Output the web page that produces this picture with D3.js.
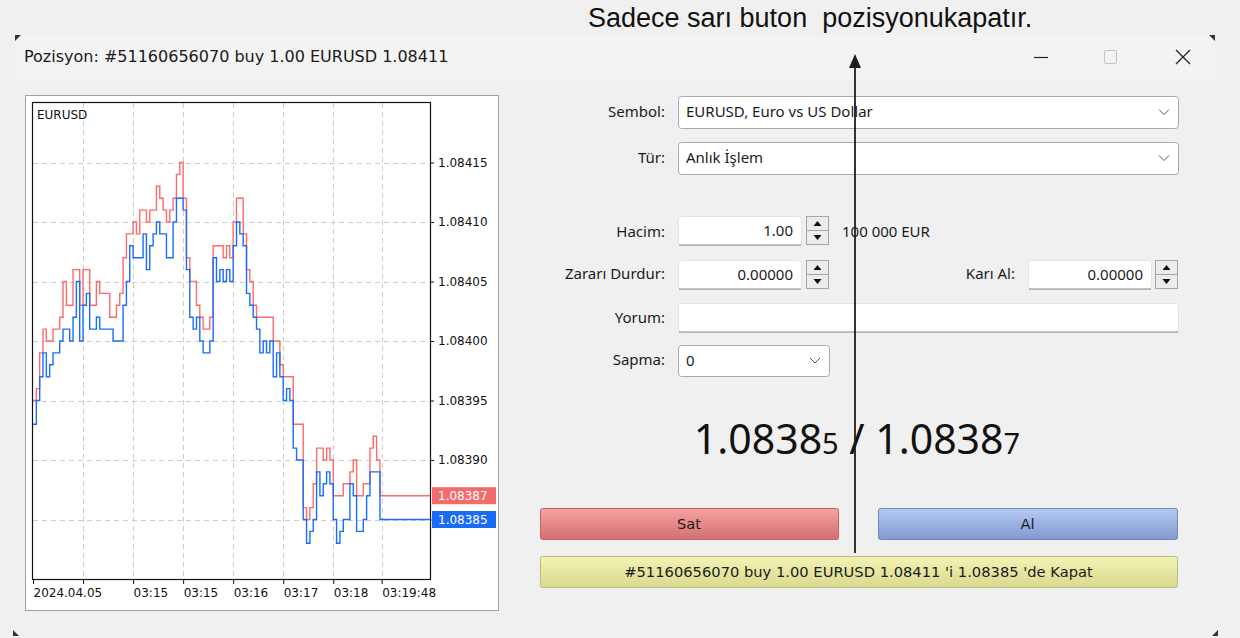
<!DOCTYPE html>
<html>
<head>
<meta charset="utf-8">
<script src="https://cdn.jsdelivr.net/npm/d3@7"></script>
<style>
  body { margin: 0; background: #f0f0f0; }
  svg { display: block; }
</style>
</head>
<body>
<div id="svg"></div>
<script>
// tick quotes in points (108385 = 1.08385), one value per tick step
const bid = [
  108393, 108395, 108397, 108399, 108397, 108398, 108399, 108399, 108400, 108401,
  108401, 108400, 108402, 108405, 108400, 108403, 108404, 108401, 108401, 108402,
  108401, 108401, 108401, 108401, 108400, 108400, 108400, 108403, 108405, 108408,
  108407, 108407, 108407, 108409, 108406, 108408, 108409, 108410, 108409, 108409,
  108407,
  108407, 108410, 108412, 108412, 108411, 108406, 108402, 108401, 108402, 108400,
  108399, 108399, 108400, 108407, 108405, 108406, 108405, 108406, 108405, 108408,
  108410, 108409, 108408, 108404, 108403, 108402, 108401, 108399, 108400, 108399,
  108400, 108397, 108399, 108397, 108395, 108396, 108395,
  108391, 108390, 108390, 108385, 108383, 108384, 108385, 108389, 108387, 108388,
  108389, 108388, 108385, 108383, 108384, 108385, 108385, 108388, 108387, 108384,
  108384, 108385, 108387, 108389, 108389, 108389, 108385
];
const ask = [
  108395, 108396, 108399, 108401, 108400, 108400, 108401, 108401, 108402, 108405,
  108403, 108403, 108406, 108406, 108403, 108406, 108406, 108403, 108403, 108405,
  108404, 108404, 108404, 108402, 108402, 108403, 108404, 108407, 108409, 108409,
  108410, 108409, 108411, 108411, 108410, 108411, 108411, 108413, 108412, 108411,
  108410,
  108411, 108412, 108414, 108415, 108412, 108407, 108405, 108405, 108403, 108402,
  108401, 108401, 108402, 108408, 108408, 108408, 108407, 108408, 108407, 108410,
  108412, 108412, 108409, 108406, 108405, 108403, 108402, 108402, 108402, 108402,
  108402, 108400, 108400, 108398, 108397, 108397, 108397,
  108393, 108393, 108393, 108386, 108385, 108386, 108388, 108391, 108391, 108390,
  108391, 108390, 108387, 108387, 108387, 108388, 108388, 108389, 108390, 108387,
  108387, 108388, 108388, 108391, 108392, 108390, 108387
];
const priceTicks = [108385, 108390, 108395, 108400, 108405, 108410, 108415];
const timeTicks = [0, 15, 30, 45, 60, 75, 90, 104.5];
const timeLabels = ["2024.04.05", "", "03:15", "03:15", "03:16", "03:17", "03:18", "03:19:48"];
const lastBid = 108385;
const lastAsk = 108387;

const w = 1240;
const h = 638;
const font = "'Noto Sans', sans-serif";
const chartFont = "'DejaVu Sans', sans-serif";

let svg = d3.select("#svg")
  .append("svg")
  .attr("width", w)
  .attr("height", h);

const defs = svg.append("defs");
const grad = (id, top, bottom) => {
  const g = defs.append("linearGradient").attr("id", id)
    .attr("x1", 0).attr("y1", 0).attr("x2", 0).attr("y2", 1);
  g.append("stop").attr("offset", "0%").attr("stop-color", top);
  g.append("stop").attr("offset", "100%").attr("stop-color", bottom);
};
grad("gSat", "#f6a3a3", "#d26f6f");
grad("gAl", "#b4cbf3", "#8198cf");
grad("gKapat", "#f3f3b4", "#d9d98f");

// window frame
svg.append("rect").attr("x", 15).attr("y", 35).attr("width", 1200).attr("height", 45).attr("fill", "#f3f3f3");
[[15, 35, 1, 1], [1215, 35, -1, 1], [13, 636, 1, -1], [1218, 636, -1, -1]].forEach(([cx, cy, sx, sy]) => {
  svg.append("path")
    .attr("d", `M${cx},${cy} l${6 * sx},0 l${-6 * sx},${6 * sy} Z`)
    .attr("fill", "#333");
});

svg.append("text")
  .attr("x", 24).attr("y", 62)
  .attr("font-family", chartFont).attr("font-size", 16).attr("fill", "#1a1a1a")
  .text("Pozisyon: #51160656070 buy 1.00 EURUSD 1.08411");

// window buttons
svg.append("line").attr("x1", 1034).attr("x2", 1048).attr("y1", 57.5).attr("y2", 57.5)
  .attr("stroke", "#222").attr("stroke-width", 1.2);
svg.append("rect").attr("x", 1104.5).attr("y", 50.5).attr("width", 12).attr("height", 13).attr("rx", 1.5)
  .attr("fill", "none").attr("stroke", "#c4c4c4");
svg.append("path").attr("d", "M1176,50 L1190,64 M1190,50 L1176,64")
  .attr("stroke", "#222").attr("stroke-width", 1.3);

// ---- chart ----
const plot = { left: 33, right: 430, top: 103, bottom: 579 };

svg.append("rect")
  .attr("x", 25.5).attr("y", 95.5).attr("width", 473).attr("height", 515)
  .attr("fill", "#fff").attr("stroke", "#a0a0a0");

const x = d3.scaleLinear().domain([0, 119]).range([plot.left, plot.right]);
const y = d3.scaleLinear().domain([108380, 108420]).range([plot.bottom, plot.top]);

let grid = svg.append("g").attr("stroke", "#cdcdcd").attr("stroke-dasharray", "5,4");
grid.selectAll(".hg")
  .data(priceTicks)
  .enter()
  .append("line")
  .attr("x1", plot.left).attr("x2", plot.right)
  .attr("y1", d => Math.round(y(d)) + 0.5).attr("y2", d => Math.round(y(d)) + 0.5);
grid.selectAll(".vg")
  .data(timeTicks.slice(1))
  .enter()
  .append("line")
  .attr("x1", d => Math.round(x(d)) + 0.5).attr("x2", d => Math.round(x(d)) + 0.5)
  .attr("y1", plot.top).attr("y2", plot.bottom);

defs.append("clipPath").attr("id", "clip")
  .append("rect")
  .attr("x", plot.left).attr("y", plot.top)
  .attr("width", plot.right - plot.left).attr("height", plot.bottom - plot.top);

const line = d3.line()
  .x(d => x(d[0]))
  .y(d => y(d[1]))
  .curve(d3.curveStepAfter);

const series = (vals) => {
  const pts = vals.map((v, i) => [i, v]);
  pts.push([x.domain()[1], vals[vals.length - 1]]);
  return pts;
};

svg.append("path")
  .attr("d", line(series(ask)))
  .attr("clip-path", "url(#clip)")
  .attr("fill", "none").attr("stroke", "#ff6b6b").attr("stroke-width", 1.4);
svg.append("path")
  .attr("d", line(series(bid)))
  .attr("clip-path", "url(#clip)")
  .attr("fill", "none").attr("stroke", "#1a6cff").attr("stroke-width", 1.4);

// frame
svg.append("rect")
  .attr("x", plot.left - 0.5).attr("y", plot.top - 0.5)
  .attr("width", plot.right - plot.left + 1).attr("height", plot.bottom - plot.top + 1)
  .attr("fill", "none").attr("stroke", "#111").attr("stroke-width", 1.2);

svg.append("text")
  .attr("x", 37).attr("y", 119)
  .attr("font-family", chartFont).attr("font-size", 12).attr("fill", "#111")
  .text("EURUSD");

const yAxis = d3.axisRight(y)
  .tickValues(priceTicks)
  .tickFormat(d => (d / 1e5).toFixed(5))
  .tickSize(4)
  .tickPadding(4);

svg.append("g")
  .attr("transform", `translate(${plot.right}, 0)`)
  .call(yAxis)
  .call(g => g.select(".domain").remove())
  .call(g => g.selectAll("line").attr("stroke", "#111"))
  .call(g => g.selectAll("text").attr("font-family", chartFont).attr("font-size", 12).attr("fill", "#111"));

const xAxis = d3.axisBottom(x)
  .tickValues(timeTicks)
  .tickFormat((d, i) => timeLabels[i])
  .tickSize(5)
  .tickPadding(4);

svg.append("g")
  .attr("transform", `translate(0, ${plot.bottom})`)
  .call(xAxis)
  .call(g => g.select(".domain").remove())
  .call(g => g.selectAll("line").attr("stroke", "#111"))
  .call(g => g.selectAll("text")
    .attr("text-anchor", "start").attr("dx", 0)
    .attr("font-family", chartFont).attr("font-size", 12).attr("fill", "#111"));

// current price tags
[[lastAsk, "#f36b6b"], [lastBid, "#1a6cf5"]].forEach(([v, c]) => {
  svg.append("rect")
    .attr("x", 432).attr("y", y(v) - 8.5).attr("width", 64).attr("height", 17)
    .attr("fill", c);
  svg.append("text")
    .attr("x", 438).attr("y", y(v) + 4.5)
    .attr("font-family", chartFont).attr("font-size", 12).attr("fill", "#fff")
    .text((v / 1e5).toFixed(5));
});

// ---- order form ----
const label = (txt, lx, ly) => svg.append("text")
  .attr("x", lx).attr("y", ly + 5)
  .attr("text-anchor", "end")
  .attr("font-family", font).attr("font-size", 15).attr("fill", "#1b1b1b")
  .text(txt);

const combo = (bx, by, bw, bh, txt) => {
  svg.append("rect")
    .attr("x", bx + 0.5).attr("y", by + 0.5).attr("width", bw).attr("height", bh).attr("rx", 3)
    .attr("fill", "#fff").attr("stroke", "#a9a9a9");
  svg.append("text")
    .attr("x", bx + 8).attr("y", by + bh / 2 + 5)
    .attr("font-family", font).attr("font-size", 15).attr("fill", "#1b1b1b")
    .text(txt);
  const cx = bx + bw - 14, cy = by + bh / 2;
  svg.append("path")
    .attr("d", `M${cx - 5},${cy - 2.5} L${cx},${cy + 2.5} L${cx + 5},${cy - 2.5}`)
    .attr("fill", "none").attr("stroke", "#555").attr("stroke-width", 1);
};

const input = (bx, by, bw, bh, txt) => {
  svg.append("rect")
    .attr("x", bx + 0.5).attr("y", by + 0.5).attr("width", bw).attr("height", bh).attr("rx", 3)
    .attr("fill", "#fff").attr("stroke", "#e2e2e2");
  svg.append("line")
    .attr("x1", bx + 1).attr("x2", bx + bw).attr("y1", by + bh).attr("y2", by + bh)
    .attr("stroke", "#868686");
  if (txt) svg.append("text")
    .attr("x", bx + bw - 8).attr("y", by + bh / 2 + 5)
    .attr("text-anchor", "end")
    .attr("font-family", font).attr("font-size", 15).attr("fill", "#1b1b1b")
    .text(txt);
};

const spinner = (bx, by) => {
  [0, 1].forEach(k => {
    svg.append("rect")
      .attr("x", bx + 0.5).attr("y", by + k * 14 + 0.5).attr("width", 22).attr("height", 14)
      .attr("fill", "#ececec").attr("stroke", "#a5a5a5");
  });
  const cx = bx + 11.5;
  svg.append("path")
    .attr("d", `M${cx - 4},${by + 10} L${cx + 4},${by + 10} L${cx},${by + 5} Z M${cx - 4},${by + 19} L${cx + 4},${by + 19} L${cx},${by + 24} Z`)
    .attr("fill", "#111");
};

label("Sembol:", 665, 112);
combo(678, 96, 500, 32, "EURUSD, Euro vs US Dollar");
label("Tür:", 665, 158);
combo(678, 142, 500, 32, "Anlık İşlem");

label("Hacim:", 665, 232);
input(678, 216, 123, 29, "1.00");
spinner(806, 216);
svg.append("text")
  .attr("x", 842).attr("y", 237)
  .attr("font-family", font).attr("font-size", 15).attr("fill", "#1b1b1b")
  .text("100 000 EUR");

label("Zararı Durdur:", 665, 274);
input(678, 260, 123, 29, "0.00000");
spinner(806, 260);
label("Karı Al:", 1015, 274);
input(1028, 260, 123, 29, "0.00000");
spinner(1155, 260);

label("Yorum:", 665, 318);
input(678, 303, 500, 29, "");

label("Sapma:", 665, 360);
combo(678, 345, 151, 31, "0");

// bid / ask quote
const quote = svg.append("text")
  .attr("x", 857).attr("y", 454)
  .attr("text-anchor", "middle")
  .attr("font-family", font).attr("fill", "#111");
const bidStr = (lastBid / 1e5).toFixed(5);
const askStr = (lastAsk / 1e5).toFixed(5);
quote.append("tspan").attr("font-size", 41).text(bidStr.slice(0, -1));
quote.append("tspan").attr("font-size", 29).text(bidStr.slice(-1));
quote.append("tspan").attr("font-size", 41).text(" / " + askStr.slice(0, -1));
quote.append("tspan").attr("font-size", 29).text(askStr.slice(-1));

const button = (bx, by, bw, bh, fill, stroke, txt) => {
  svg.append("rect")
    .attr("x", bx + 0.5).attr("y", by + 0.5).attr("width", bw).attr("height", bh).attr("rx", 2)
    .attr("fill", fill).attr("stroke", stroke);
  svg.append("text")
    .attr("x", bx + bw / 2).attr("y", by + bh / 2 + 5)
    .attr("text-anchor", "middle")
    .attr("font-family", chartFont).attr("font-size", 14.7).attr("fill", "#1b1b1b")
    .text(txt);
};
button(540, 508, 298, 31, "url(#gSat)", "#c46464", "Sat");
button(878, 508, 299, 31, "url(#gAl)", "#7289c0", "Al");
button(540, 556, 637, 31, "url(#gKapat)", "#bdbd7a", "#51160656070 buy 1.00 EURUSD 1.08411 'i 1.08385 'de Kapat");

// annotation
svg.append("text")
  .attr("x", 588).attr("y", 27)
  .attr("font-family", "'Liberation Sans', Arial, sans-serif").attr("font-size", 27)
  .attr("fill", "#111")
  .style("white-space", "pre")
  .text("Sadece sarı buton  pozisyonukapatır.");

svg.append("line")
  .attr("x1", 855).attr("x2", 855).attr("y1", 553).attr("y2", 66)
  .attr("stroke", "#1e1e1e").attr("stroke-width", 1.8);
svg.append("path")
  .attr("d", "M855,54 L861,68 L849,68 Z")
  .attr("fill", "#1e1e1e");
</script>
</body>
</html>
